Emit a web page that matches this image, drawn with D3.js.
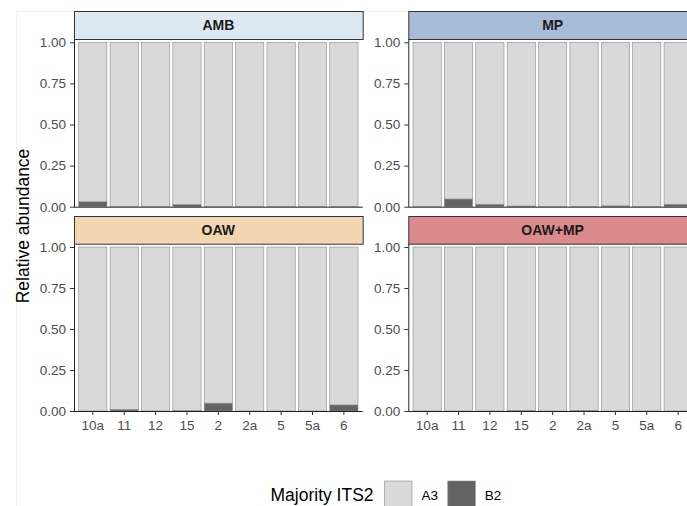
<!DOCTYPE html>
<html>
<head>
<meta charset="utf-8">
<script src="https://cdn.jsdelivr.net/npm/d3@7"></script>
<style>
  body { margin: 0; overflow: hidden; background: #fff; }
  text { font-family: "Liberation Sans", Arial, sans-serif; }
</style>
</head>
<body>
<div id="chart"></div>
<script>
// samples on the x axis
var samples = ["10a", "11", "12", "15", "2", "2a", "5", "5a", "6"];
// treatments (facets)
var treatments = ["AMB", "MP", "OAW", "OAW+MP"];
// proportion of B2 per sample, one array per treatment (A3 = 1 - B2)
var b2AMB   = [0.030, 0, 0, 0.012, 0, 0, 0, 0, 0];
var b2MP    = [0, 0.047, 0.015, 0.004, 0, 0, 0.005, 0, 0.015];
var b2OAW   = [0, 0.010, 0, 0.003, 0.048, 0, 0, 0, 0.037];
var b2OAWMP = [0, 0, 0, 0.004, 0, 0.004, 0, 0, 0];
var types = ["A3", "B2"];
var yTicks = [0, 0.25, 0.5, 0.75, 1];

var b2ByTreatment = [b2AMB, b2MP, b2OAW, b2OAWMP];
var stripFill = {"AMB": "#dce9f2", "MP": "#a7bcd9", "OAW": "#f4d5b2", "OAW+MP": "#dc8b8d"};
var typeFill = {"A3": "#d9d9d9", "B2": "#636363"};

var W = 730, H = 506;
var svg = d3.select("#chart").append("svg")
    .attr("width", W)
    .attr("height", H);

// faint plot border
svg.append("rect")
    .attr("x", 16.5).attr("y", 11.5)
    .attr("width", 800).attr("height", 600)
    .attr("fill", "none")
    .attr("stroke", "#f0f0f0");

// panel geometry
var colX = [74, 408.3], panelW = 288.7;
var rows = [
    {stripTop: 11, stripBot: 39, bottom: 206.7},
    {stripTop: 216, stripBot: 243.7, bottom: 411}
];

// stack data
var stack = d3.stack().keys(types);

treatments.forEach(function (t, i) {
    var col = i % 2, row = Math.floor(i / 2);
    var x0 = colX[col], r = rows[row];

    var x = d3.scaleBand()
        .domain(samples)
        .range([x0, x0 + panelW])
        .paddingInner(0.1)
        .paddingOuter(0.15);

    var y = d3.scaleLinear()
        .domain([0, 1.02])
        .range([r.bottom, r.stripBot]);

    var rowsData = samples.map(function (s, j) {
        var b = b2ByTreatment[i][j];
        return {sample: s, B2: b, A3: 1 - b};
    });
    // B2 first so it sits at the bottom
    var series = d3.stack().keys(["B2", "A3"])(rowsData);

    var g = svg.append("g");

    series.forEach(function (ser) {
        g.selectAll(null)
            .data(ser.filter(function (d) { return d[1] - d[0] > 0; }))
            .enter()
            .append("rect")
            .attr("x", function (d) { return x(d.data.sample); })
            .attr("width", x.bandwidth())
            .attr("y", function (d) { return y(d[1]); })
            .attr("height", function (d) { return y(d[0]) - y(d[1]); })
            .attr("fill", typeFill[ser.key])
            .attr("stroke", "#8a8a8a")
            .attr("stroke-width", 0.6);
    });

    // y axis
    var ya = g.append("g")
        .attr("transform", "translate(" + x0 + ",0)")
        .call(d3.axisLeft(y).tickValues(yTicks).tickFormat(d3.format(".2f")).tickSize(4).tickPadding(4));
    ya.select(".domain").attr("d", "M0.5," + r.stripBot + "V" + (r.bottom + 0.5)).attr("stroke", "#222").attr("stroke-width", 1);
    ya.selectAll(".tick line").attr("stroke", "#333");
    ya.selectAll(".tick text").attr("fill", "#4d4d4d").style("font-size", "13.5px");

    // x axis
    var xa = g.append("g")
        .attr("transform", "translate(0," + r.bottom + ")")
        .call(d3.axisBottom(x).tickSize(row === 1 ? 4 : 0).tickPadding(5));
    xa.select(".domain").attr("d", "M" + x0 + ",0.5H" + (x0 + panelW)).attr("stroke", "#222").attr("stroke-width", 1);
    xa.selectAll(".tick line").attr("stroke", "#333");
    xa.selectAll(".tick text").attr("fill", "#4d4d4d").style("font-size", "13.5px")
        .style("display", row === 1 ? null : "none");

    // strip
    g.append("rect")
        .attr("x", x0 + 0.5).attr("y", r.stripTop + 0.5)
        .attr("width", panelW).attr("height", r.stripBot - r.stripTop)
        .attr("fill", stripFill[t])
        .attr("stroke", "#333")
        .attr("stroke-width", 1);
    g.append("text")
        .attr("x", x0 + panelW / 2)
        .attr("y", (r.stripTop + r.stripBot) / 2 + 1)
        .attr("text-anchor", "middle")
        .attr("dominant-baseline", "middle")
        .attr("fill", "#1a1a1a")
        .style("font-size", "14px")
        .style("font-weight", "bold")
        .text(t);
});

// y axis title
svg.append("text")
    .attr("transform", "translate(29,226) rotate(-90)")
    .attr("text-anchor", "middle")
    .style("font-size", "17.5px")
    .attr("fill", "#000")
    .text("Relative abundance");

// legend
var leg = svg.append("g");
leg.append("text")
    .attr("x", 270.5).attr("y", 501)
    .style("font-size", "17.5px")
    .attr("fill", "#000")
    .text("Majority ITS2");
var keyX = [384, 447.3];
types.forEach(function (k, i) {
    leg.append("rect")
        .attr("x", keyX[i] + 0.5).attr("y", 481)
        .attr("width", 27.5).attr("height", 28)
        .attr("fill", typeFill[k])
        .attr("stroke", "#8a8a8a")
        .attr("stroke-width", 0.6);
    leg.append("text")
        .attr("x", keyX[i] + 37.5).attr("y", 499.5)
        .style("font-size", "13.5px")
        .attr("fill", "#000")
        .text(k);
});
</script>
</body>
</html>
